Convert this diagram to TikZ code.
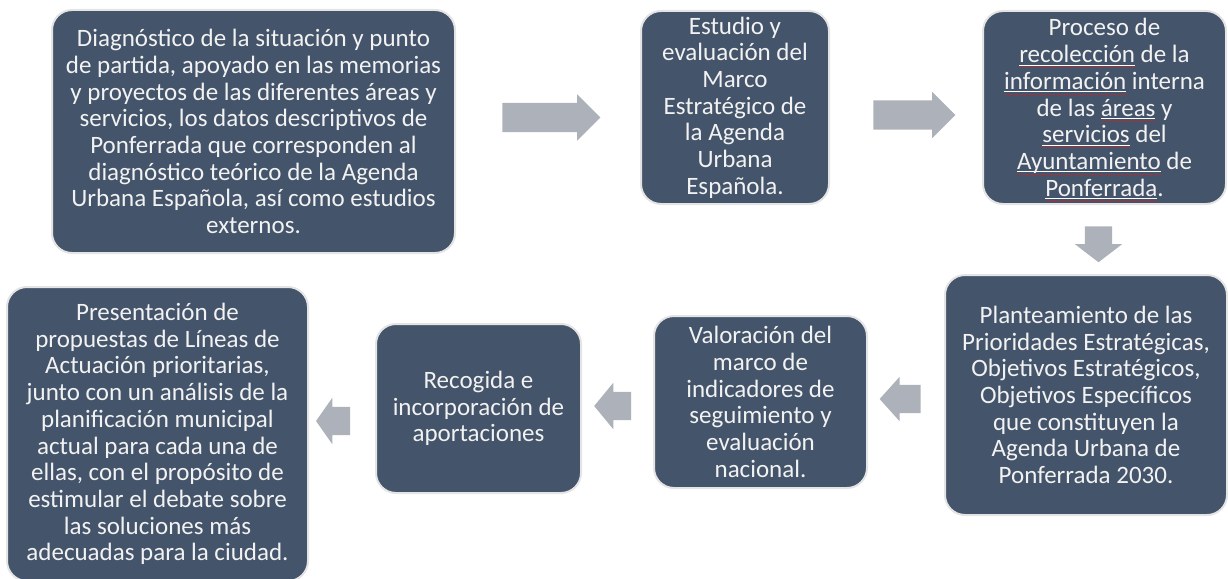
\documentclass[tikz,border=0pt]{standalone}
\usepackage{fontspec}
\setmainfont{Carlito}
\usetikzlibrary{shapes.arrows}

\definecolor{slateblue}{HTML}{44546A}
\definecolor{arrowgray}{HTML}{ADB1B9}
\definecolor{rimgray}{HTML}{E4E4E4}
\definecolor{spellred}{HTML}{D02020}

% white underline with the red spell-check dots below it
\newcommand{\spellchk}[1]{%
  \setbox0\hbox{#1}%
  \rlap{\smash{\raisebox{-2.6pt}{\color{white}\rule{\wd0}{0.6pt}}}}%
  \rlap{\smash{\raisebox{-5pt}{\hbox to \wd0{\color{spellred}\xleaders\hbox to 1.6pt{\hss\rule{0.8pt}{0.8pt}\hss}\hfill}}}}%
  \box0\relax}

\begin{document}
\begin{tikzpicture}[x=1pt,y=-1pt,
    stepcard/.style={draw=rimgray, line width=2pt, fill=slateblue, rounded corners=20pt,
      text=white!95!black, align=center, inner sep=0pt, font=\fontsize{25}{26.7}\selectfont},
    blockarrow/.style={single arrow, fill=arrowgray, draw=none, inner xsep=0pt,
      single arrow head indent=0pt}]
  \useasboundingbox (0,0) rectangle (1228,578);

  % top row
  \node[stepcard, minimum width=403pt, minimum height=243pt] (diag) at (253.5,131.5)
    {Diagnóstico de la situación y punto\\de partida, apoyado en las memorias\\
     y proyectos de las diferentes áreas y\\servicios, los datos descriptivos de\\
     Ponferrada que corresponden al\\diagnóstico teórico de la Agenda\\
     Urbana Española, así como estudios\\externos.};
  \node[stepcard, minimum width=188pt, minimum height=193pt] (estudio) at (735,107.5)
    {Estudio y\\evaluación del\\Marco\\Estratégico de\\la Agenda\\Urbana\\Española.};
  \node[stepcard, minimum width=243pt, minimum height=193pt] (proceso) at (1104.5,107.5)
    {Proceso de\\\spellchk{recolección} de la\\\spellchk{información} interna\\
     de las \spellchk{áreas} y\\\spellchk{servicios} del\\\spellchk{Ayuntamiento} de\\
     \spellchk{Ponferrada}.};

  % bottom row
  \node[stepcard, minimum width=282pt, minimum height=240pt] (planteo) at (1086,395)
    {Planteamiento de las\\Prioridades Estratégicas,\\Objetivos Estratégicos,\\
     Objetivos Específicos\\que constituyen la\\Agenda Urbana de\\Ponferrada 2030.};
  \node[stepcard, minimum width=213pt, minimum height=172pt] (valoracion) at (760.5,402)
    {Valoración del\\marco de\\indicadores de\\seguimiento y\\evaluación\\nacional.};
  \node[stepcard, minimum width=205pt, minimum height=169pt] (recogida) at (478.5,408.5)
    {Recogida e\\incorporación de\\aportaciones};
  \node[stepcard, minimum width=301pt, minimum height=294pt] (propuestas) at (157.5,434)
    {Presentación de\\propuestas de Líneas de\\Actuación prioritarias,\\
     junto con un análisis de la\\planificación municipal\\actual para cada una de\\
     ellas, con el propósito de\\estimular el debate sobre\\las soluciones más\\
     adecuadas para la ciudad.};

  % block arrows between the steps
  \node[blockarrow, minimum height=98pt, inner ysep=14.5pt, single arrow head extend=8.5pt,
    single arrow tip angle=90] (a1) at (544,117.5) {};
  \node[blockarrow, minimum height=82pt, inner ysep=14.5pt, single arrow head extend=8.5pt,
    single arrow tip angle=90] (a2) at (907,115) {};
  \node[blockarrow, minimum height=36pt, inner ysep=13.5pt, single arrow head extend=10pt,
    single arrow tip angle=105, rotate=-90] (a3) at (1098.5,239) {};
  \node[blockarrow, minimum height=41pt, inner ysep=14pt, single arrow head extend=8pt,
    single arrow tip angle=96, shape border rotate=180] (a4) at (906.5,399) {};
  \node[blockarrow, minimum height=37pt, inner ysep=14pt, single arrow head extend=9pt,
    single arrow tip angle=101, shape border rotate=180] (a5) at (618.5,406) {};
  \node[blockarrow, minimum height=34pt, inner ysep=14pt, single arrow head extend=9pt,
    single arrow tip angle=110, shape border rotate=180] (a6) at (338,421) {};
\end{tikzpicture}
\end{document}
